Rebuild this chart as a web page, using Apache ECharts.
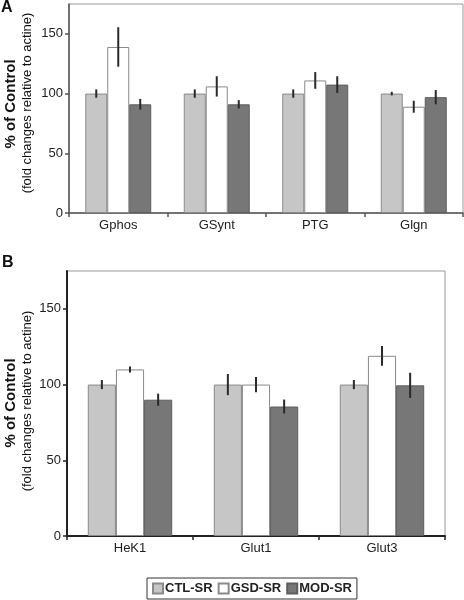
<!DOCTYPE html>
<html>
<head>
<meta charset="utf-8">
<script src="https://cdn.jsdelivr.net/npm/echarts@6/dist/echarts.min.js"></script>
<style>
html,body{margin:0;padding:0;background:#fff;}
#chart{width:464px;height:600px;}
</style>
</head>
<body>
<div id="chart"></div>
<script>
// Panel A
const catsA = ['Gphos', 'GSynt', 'PTG', 'Glgn'];
const ctlA = [100, 100, 100, 100];
const ctlErrA = [3.5, 3.5, 3.5, 1.5];
const gsdA = [139, 106, 111, 89];
const gsdErrA = [16.5, 8.5, 7, 5];
const modA = [91, 91, 107.5, 97];
const modErrA = [4.5, 3.5, 7, 6];
// Panel B
const catsB = ['HeK1', 'Glut1', 'Glut3'];
const ctlB = [100, 100, 100];
const ctlErrB = [3, 7, 3];
const gsdB = [110, 100, 119];
const gsdErrB = [2, 5, 6.5];
const modB = [90, 85.5, 99.5];
const modErrB = [4, 4.6, 8.3];
const yTicks = [0, 50, 100, 150];
const seriesNames = ['CTL-SR', 'GSD-SR', 'MOD-SR'];

const FONT = '"Liberation Sans", Arial, sans-serif';
const GAP = 0.33;
const styles = [
  {color: '#c6c6c6', borderColor: '#8a8a8a', borderWidth: 1},
  {color: '#ffffff', borderColor: '#8a8a8a', borderWidth: 1},
  {color: '#777777', borderColor: '#5e5e5e', borderWidth: 1}
];

function errSeries(idx, gridIdx, vals, errs) {
  const offset = idx - 1;
  return {
    type: 'custom',
    name: 'err' + gridIdx + '_' + idx,
    xAxisIndex: gridIdx, yAxisIndex: gridIdx,
    z: 5,
    data: vals.map((v, i) => [i, v, errs[i]]),
    encode: {x: 0, y: 1},
    renderItem: function (params, api) {
      const ci = api.value(0), v = api.value(1), e = api.value(2);
      const c = api.coord([ci, v]);
      const band = api.size([1, 0])[0];
      const bw = band * (1 - GAP) / 3;
      const x = c[0] + offset * bw;
      const top = api.coord([ci, v + e])[1];
      const bot = api.coord([ci, v - e])[1];
      return {type: 'line', shape: {x1: x, y1: top, x2: x, y2: bot},
        style: {stroke: '#2a2a2a', lineWidth: 2}};
    }
  };
}

function barSeries(idx, gridIdx, vals) {
  return {
    type: 'bar', name: seriesNames[idx],
    xAxisIndex: gridIdx, yAxisIndex: gridIdx,
    data: vals, barGap: '0%', barCategoryGap: (GAP * 100) + '%',
    itemStyle: styles[idx]
  };
}

function xAxisCfg(gridIdx, cats, axisColor, w) {
  return {
    type: 'category', gridIndex: gridIdx, data: cats,
    axisLine: {lineStyle: {color: axisColor, width: w}},
    axisTick: {show: true, length: 4, lineStyle: {color: axisColor, width: 1.5}},
    axisLabel: {color: '#222', fontFamily: FONT, fontSize: 13, margin: 6}
  };
}
function yAxisCfg(gridIdx, axisColor, w) {
  return {
    type: 'value', gridIndex: gridIdx, min: 0, max: 175, interval: 50,
    axisLine: {show: true, lineStyle: {color: axisColor, width: w}},
    axisTick: {show: true, length: 4, customValues: yTicks, lineStyle: {color: axisColor, width: 1.5}},
    axisLabel: {color: '#222', fontFamily: FONT, fontSize: 13, margin: 6, customValues: yTicks},
    splitLine: {show: false}
  };
}

const chart = echarts.init(document.getElementById('chart'), null, {renderer: 'canvas'});
const option = {
  animation: false,
  backgroundColor: '#fff',
  grid: [
    {left: 69, top: 4, width: 394, height: 209, show: true, borderColor: '#999', borderWidth: 1},
    {left: 67, top: 271, width: 378, height: 265, show: true, borderColor: '#999', borderWidth: 1}
  ],
  xAxis: [xAxisCfg(0, catsA, '#555', 1.5), xAxisCfg(1, catsB, '#222', 2)],
  yAxis: [yAxisCfg(0, '#555', 1.5), yAxisCfg(1, '#222', 2)],
  legend: {
    data: seriesNames,
    left: 147, top: 578,
    itemWidth: 10, itemHeight: 10, itemGap: 5,
    padding: [4, 5, 4, 5],
    borderColor: '#333', borderWidth: 1,
    icon: 'rect',
    textStyle: {fontFamily: FONT, fontSize: 13, fontWeight: 'bold', color: '#222', padding: [0, 0, 0, -3]}
  },
  graphic: [
    {type: 'text', left: 1, top: 0, style: {text: 'A', font: 'bold 16px ' + FONT, fill: '#111'}},
    {type: 'text', left: 2, top: 255, style: {text: 'B', font: 'bold 16px ' + FONT, fill: '#111'}},
    {type: 'text', x: 11, y: 104, rotation: Math.PI / 2,
      style: {text: '% of Control', font: 'bold 15px ' + FONT, fill: '#111', textAlign: 'center', textVerticalAlign: 'middle'}},
    {type: 'text', x: 27, y: 103, rotation: Math.PI / 2,
      style: {text: '(fold changes relative to actine)', font: '13px ' + FONT, fill: '#111', textAlign: 'center', textVerticalAlign: 'middle'}},
    {type: 'text', x: 11, y: 403, rotation: Math.PI / 2,
      style: {text: '% of Control', font: 'bold 15px ' + FONT, fill: '#111', textAlign: 'center', textVerticalAlign: 'middle'}},
    {type: 'text', x: 27, y: 401, rotation: Math.PI / 2,
      style: {text: '(fold changes relative to actine)', font: '13px ' + FONT, fill: '#111', textAlign: 'center', textVerticalAlign: 'middle'}}
  ],
  series: [
    barSeries(0, 0, ctlA), barSeries(1, 0, gsdA), barSeries(2, 0, modA),
    barSeries(0, 1, ctlB), barSeries(1, 1, gsdB), barSeries(2, 1, modB),
    errSeries(0, 0, ctlA, ctlErrA), errSeries(1, 0, gsdA, gsdErrA), errSeries(2, 0, modA, modErrA),
    errSeries(0, 1, ctlB, ctlErrB), errSeries(1, 1, gsdB, gsdErrB), errSeries(2, 1, modB, modErrB)
  ]
};
chart.setOption(option);
</script>
</body>
</html>
